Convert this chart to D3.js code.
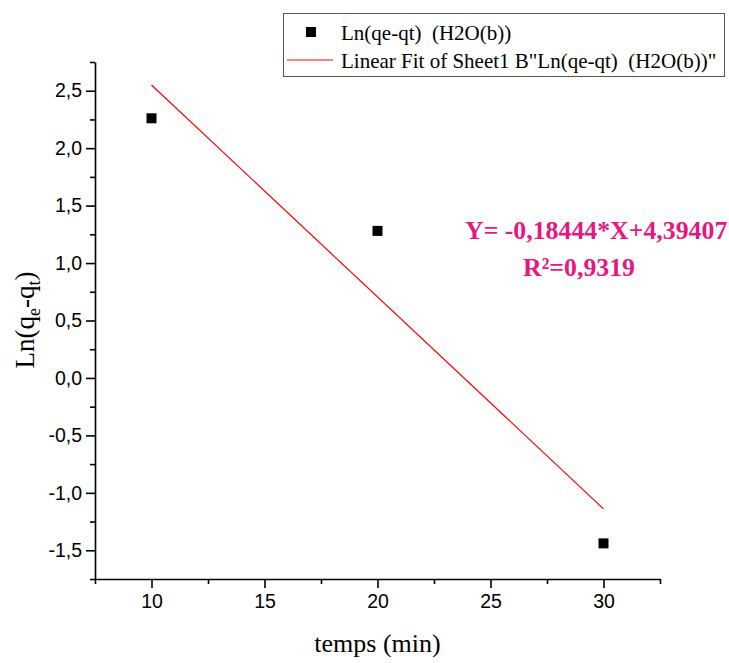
<!DOCTYPE html>
<html>
<head>
    <script src="https://cdn.jsdelivr.net/npm/d3@7"></script>
    <style>
        body { margin: 0; background: #fff; }
        text { white-space: pre; }
    </style>
</head>
<body>
    <svg width="729" height="663"></svg>
    <script>
        // data
        const times = [10, 20, 30];
        const lnValues = [2.26, 1.28, -1.44];
        const fitSlope = -0.18444;
        const fitIntercept = 4.39407;
        const xTicks = [10, 15, 20, 25, 30];
        const yTicks = [-1.5, -1.0, -0.5, 0.0, 0.5, 1.0, 1.5, 2.0, 2.5];
        const legendLabels = ["Ln(qe-qt)  (H2O(b))", "Linear Fit of Sheet1 B\"Ln(qe-qt)  (H2O(b))\""];

        const svg = d3.select("svg");
        const margin = { top: 62, right: 69, bottom: 84, left: 95 };
        const width = +svg.attr("width") - margin.left - margin.right;
        const height = +svg.attr("height") - margin.top - margin.bottom;

        const x = d3.scaleLinear().domain([7.5, 32.5]).range([0, width]);
        const y = d3.scaleLinear().domain([-1.75, 2.75]).range([height, 0]);

        const g = svg.append("g")
            .attr("transform", `translate(${margin.left},${margin.top})`);

        const fmt = d => d3.format(".1f")(d).replace(".", ",").replace("−", "-");

        // minor ticks
        g.append("g")
            .attr("transform", `translate(0,${height})`)
            .call(d3.axisBottom(x).tickValues(d3.range(7.5, 32.6, 5)).tickSize(5).tickFormat(""))
            .call(a => a.select(".domain").remove());
        g.append("g")
            .call(d3.axisLeft(y).tickValues(d3.range(-1.75, 2.76, 0.5)).tickSize(5).tickFormat(""))
            .call(a => a.select(".domain").remove());

        const xAxis = g.append("g")
            .attr("transform", `translate(0,${height})`)
            .call(d3.axisBottom(x).tickValues(xTicks).tickSize(9).tickSizeOuter(0).tickPadding(6));
        const yAxis = g.append("g")
            .call(d3.axisLeft(y).tickValues(yTicks).tickFormat(fmt).tickSize(9).tickSizeOuter(0).tickPadding(4));

        [xAxis, yAxis].forEach(a => {
            a.selectAll("text")
                .attr("font-family", "Liberation Sans, Arial, sans-serif")
                .attr("font-size", 19.5)
                .attr("fill", "#000");
        });
        g.selectAll(".domain, .tick line").attr("stroke", "#000").attr("stroke-width", 1.6);

        // fit line
        g.append("line")
            .attr("x1", x(times[0]))
            .attr("y1", y(fitSlope * times[0] + fitIntercept))
            .attr("x2", x(times[times.length - 1]))
            .attr("y2", y(fitSlope * times[times.length - 1] + fitIntercept))
            .attr("stroke", "#ff0000")
            .attr("stroke-width", 1.2);

        // points
        g.selectAll(".pt")
            .data(times.map((t, i) => ({ t, v: lnValues[i] })))
            .enter().append("rect")
            .attr("class", "pt")
            .attr("x", d => x(d.t) - 5)
            .attr("y", d => y(d.v) - 5)
            .attr("width", 10)
            .attr("height", 10)
            .attr("fill", "#000");

        // axis titles
        svg.append("text")
            .attr("x", margin.left + x(20))
            .attr("y", 652)
            .attr("text-anchor", "middle")
            .attr("font-family", "Liberation Serif, Times New Roman, serif")
            .attr("font-size", 26)
            .text("temps (min)");

        const yt = svg.append("text")
            .attr("transform", "translate(34,320) rotate(-90)")
            .attr("text-anchor", "middle")
            .attr("font-family", "Liberation Serif, Times New Roman, serif")
            .attr("font-size", 27);
        yt.append("tspan").text("Ln(q");
        yt.append("tspan").attr("font-size", 18).attr("dy", 6).text("e");
        yt.append("tspan").attr("dy", -6).text("-q");
        yt.append("tspan").attr("font-size", 18).attr("dy", 6).text("t");
        yt.append("tspan").attr("dy", -6).text(")");

        // legend
        const lg = svg.append("g");
        lg.append("rect")
            .attr("x", 283.5).attr("y", 13.5)
            .attr("width", 441).attr("height", 63)
            .attr("fill", "#fff").attr("stroke", "#555").attr("stroke-width", 1);
        lg.append("rect")
            .attr("x", 306).attr("y", 27).attr("width", 10).attr("height", 10).attr("fill", "#000");
        lg.append("line")
            .attr("x1", 287).attr("x2", 333).attr("y1", 60).attr("y2", 60)
            .attr("stroke", "#ff0000").attr("stroke-width", 1.2);
        lg.selectAll(".lt")
            .data(legendLabels)
            .enter().append("text")
            .attr("x", 341)
            .attr("y", (d, i) => 40 + i * 28)
            .attr("font-family", "Liberation Serif, Times New Roman, serif")
            .attr("font-size", 21)
            .text(d => d);

        // equation
        const eq = svg.append("g")
            .attr("font-family", "Liberation Serif, Times New Roman, serif")
            .attr("font-weight", "bold")
            .attr("font-size", 25.8)
            .attr("fill", "#e8177f");
        eq.append("text").attr("x", 465).attr("y", 239).text("Y= -0,18444*X+4,39407");
        eq.append("text").attr("x", 523).attr("y", 276).text("R²=0,9319");
    </script>
</body>
</html>
